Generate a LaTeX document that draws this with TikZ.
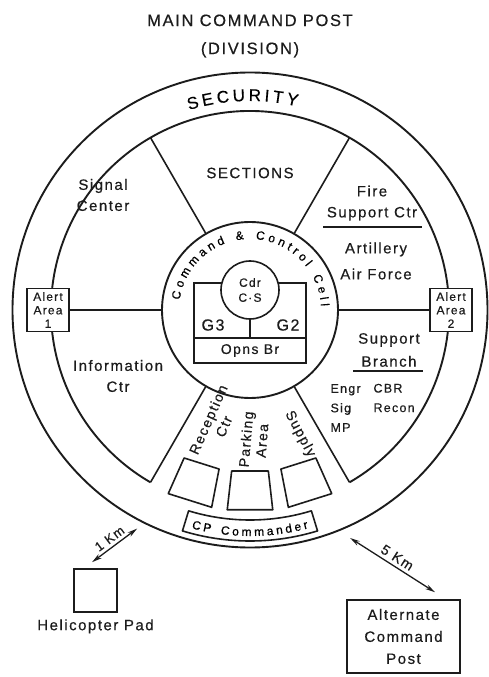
\documentclass[tikz,border=0pt]{standalone}
\usepackage{fontspec}
\setmainfont{Liberation Sans}[LetterSpace=10, FakeBold=0.5]
\usetikzlibrary{arrows.meta,positioning,decorations.text}
\definecolor{cInk}{HTML}{1C1C1C}

\begin{document}
\begin{tikzpicture}[
  x=1pt, y=1pt, color=cInk,
  font=\fontsize{15}{21}\selectfont,
  >={Stealth[length=10pt, width=5pt]},
  ringline/.style={draw=cInk, line width=1.9pt},
  divider/.style={draw=cInk, line width=1.6pt},
  alert/.style={draw=cInk, line width=1.6pt, fill=white, align=center,
                minimum width=42pt, minimum height=43pt, inner sep=1pt,
                font=\fontsize{12}{13.5}\selectfont},
  lbl/.style={align=center},
  sub/.style={align=left, anchor=west, font=\fontsize{12.5}{19.5}\selectfont},
  slot/.style={draw=cInk, line width=1.6pt, fill=white, line join=round},
  dist/.style={<->, draw=cInk, line width=1.3pt},
  curved/.style={decorate, decoration={text along path, text align=fit to path,
                 text={#1}}},
]
\useasboundingbox (-250,-367) rectangle (238,310);

% ---------------- title ----------------
\node (title) [lbl, font=\fontsize{16.5}{28}\selectfont] at (0,274) {MAIN COMMAND POST\\(DIVISION)};

% ---------------- security ring ----------------
\node (outer) [circle, ringline, minimum size=475pt, inner sep=0pt, outer sep=0pt] at (0,0) {};
\node (inner) [circle, minimum size=398pt, inner sep=0pt, outer sep=0pt] at (0,0) {};
\draw[ringline] (inner.300) arc[start angle=-60, end angle=240, radius=199];
\path[curved={|\fontsize{17}{17}\selectfont|SECURITY}]
  (107:209) arc[start angle=107, end angle=77, radius=209];

% ---------------- command & control cell ----------------
\node (cell) [circle, ringline, minimum size=176pt, inner sep=0pt] at (0,0) {};
\path[curved={|\fontsize{12}{12}\selectfont|Command {\&} Control Cell}]
  (172:71) arc[start angle=172, end angle=3, radius=71];
\node (staff) [draw, line width=1.6pt, minimum width=112pt, minimum height=80pt] at (0,-13) {};
\node (opns) [draw, line width=1.6pt, minimum width=112pt, minimum height=25pt,
              anchor=south, font=\fontsize{14}{14}\selectfont] at (staff.south) {Opns Br};
\node (cdr) [circle, draw, line width=1.6pt, fill=white, minimum size=58pt, inner sep=0pt,
             align=center, font=\fontsize{12}{15}\selectfont] at (0,20) {Cdr\\C·S};
\node (g3) [font=\fontsize{16}{16}\selectfont] at (-37,-15) {G3};
\node (g2) [font=\fontsize{16}{16}\selectfont] at (38,-15) {G2};
\draw[line width=1.6pt] (cdr.south) -- (opns.north);

% ---------------- sectors ----------------
\draw[divider] (cell.120) -- (inner.120);
\draw[divider] (cell.60)  -- (inner.60);
\draw[divider] (cell.240) -- (inner.240);
\draw[divider] (cell.300) -- (inner.300);

\node (alert1) [alert] at (-202,0) {Alert\\Area\\1};
\node (alert2) [alert] at (201,0) {Alert\\Area\\2};
\draw[divider] (alert1) -- (cell);
\draw[divider] (cell) -- (alert2);

\node (sect) at (0,137) {SECTIONS};
\node (signal) [lbl] at (-147,115) {Signal\\Center};
\node (info) [lbl] at (-132,-66) {Information\\Ctr};
\node (fsc) [lbl] at (122,107) {Fire\\Support Ctr};
\draw[divider] (73,83) -- (172,83);
\node (arty) [lbl, font=\fontsize{15}{26}\selectfont] at (126,49) {Artillery\\Air Force};
\node (supbr) [lbl, font=\fontsize{15}{23}\selectfont] at (139,-40) {Support\\Branch};
\draw[divider] (103,-61) -- (173,-61);
\node (engr) [sub] at (77,-98) {Engr\\Sig\\MP};
\node (cbr) [sub] at (120,-88) {CBR\\Recon};

% ---------------- bottom sector ----------------
\foreach \a/\b in {-114/-101, -96.5/-83.5, -79/-66}
  \draw[slot] (\a:162) -- (\b:162) -- (\b:201) -- (\a:201) -- cycle;
\node (recep) [lbl, rotate=66, font=\fontsize{14}{17}\selectfont] at (-34,-113) {Reception\\Ctr};
\node (park) [lbl, rotate=85, font=\fontsize{14}{16}\selectfont] at (4,-130) {Parking\\Area};
\node (supply) [rotate=-62, font=\fontsize{14}{16}\selectfont] at (50,-124) {Supply};

\draw[slot] (-107:210) arc[start angle=-107, end angle=-73, radius=210]
  -- (-73:231) arc[start angle=-73, end angle=-107, radius=231] -- cycle;
\path[curved={|\fontsize{12}{12}\selectfont|CP Commander}]
  (-105:226) arc[start angle=-105, end angle=-75, radius=226];

% ---------------- outlying sites ----------------
\node (pad) [draw, line width=1.6pt, minimum size=43pt] at (-154.5,-280.5) {};
\node (padlbl) [below=3pt of pad] {Helicopter Pad};
\coordinate (ring1) at (-117.3:246);
\draw[dist] ([shift={(-3.5pt,6pt)}]pad.north) -- node[above, sloped, font=\fontsize{13}{13}\selectfont] {1 Km} (ring1);

\node (alt) [draw, line width=1.6pt, minimum width=113pt, minimum height=73pt, lbl,
             font=\fontsize{15}{22}\selectfont] at (153.5,-326.5) {Alternate\\Command\\Post};
\coordinate (ring5) at (-66.3:249);
\draw[dist] (ring5) -- node[above, sloped, font=\fontsize{14}{14}\selectfont] {5 Km} ([shift={(31.5pt,7pt)}]alt.north);

\end{tikzpicture}
\end{document}
